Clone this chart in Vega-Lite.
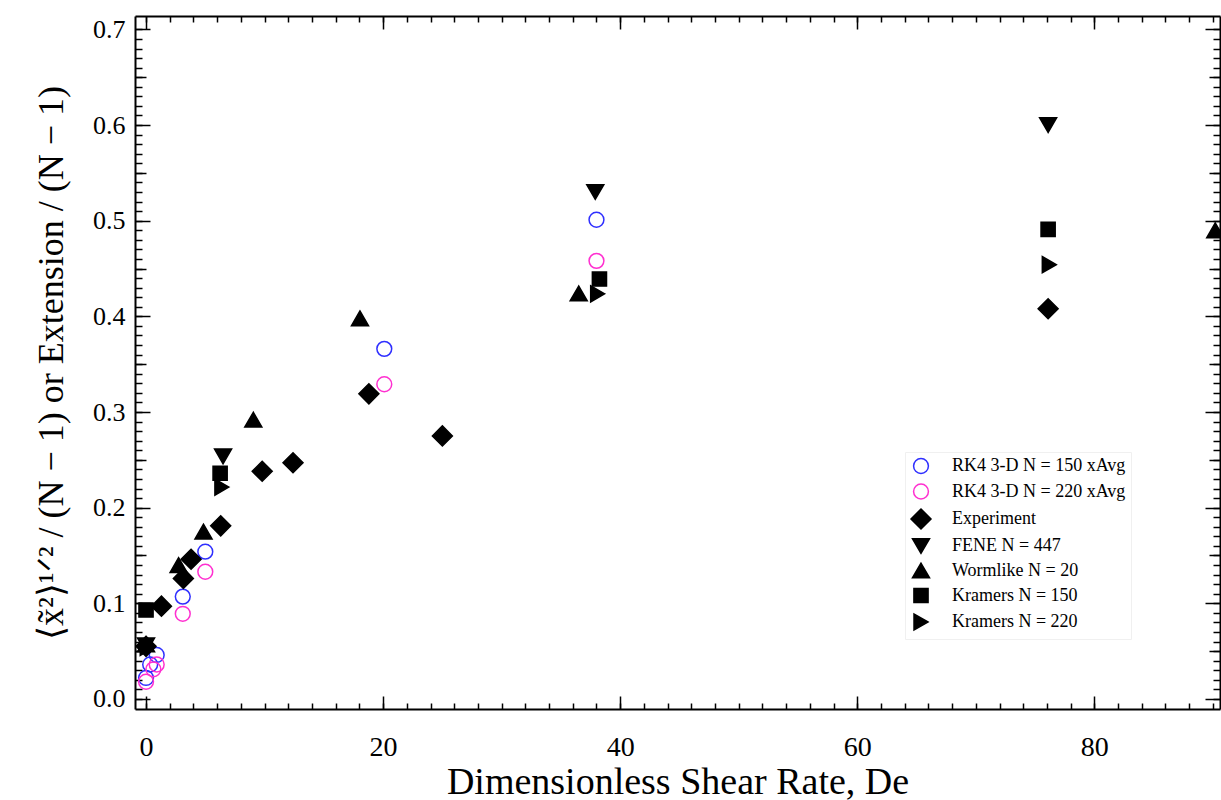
{
  "$schema": "https://vega.github.io/schema/vega-lite/v6.json",
  "width": 1085,
  "height": 693,
  "autosize": {"type": "none"},
  "padding": {"left": 135, "top": 16, "right": 1, "bottom": 91},
  "background": "white",
  "config": {
    "view": {"stroke": null},
    "axis": {"grid": false, "domainColor": "black", "domainWidth": 2, "tickColor": "black", "tickWidth": 1.5, "labelColor": "black", "titleColor": "black", "labelFont": "Liberation Serif", "titleFont": "Liberation Serif", "titleFontWeight": "normal"}
  },
  "datasets": {
    "pts": [
      {"series": "RK4 3-D N = 150 xAvg", "de": 0, "v": 0.022},
      {"series": "RK4 3-D N = 150 xAvg", "de": 0.35, "v": 0.036},
      {"series": "RK4 3-D N = 150 xAvg", "de": 0.9, "v": 0.046},
      {"series": "RK4 3-D N = 150 xAvg", "de": 3.1, "v": 0.107},
      {"series": "RK4 3-D N = 150 xAvg", "de": 5.0, "v": 0.154},
      {"series": "RK4 3-D N = 150 xAvg", "de": 20.1, "v": 0.366},
      {"series": "RK4 3-D N = 150 xAvg", "de": 38.0, "v": 0.501},
      {"series": "RK4 3-D N = 220 xAvg", "de": 0, "v": 0.018},
      {"series": "RK4 3-D N = 220 xAvg", "de": 0.62, "v": 0.031},
      {"series": "RK4 3-D N = 220 xAvg", "de": 0.9, "v": 0.036},
      {"series": "RK4 3-D N = 220 xAvg", "de": 3.1, "v": 0.089},
      {"series": "RK4 3-D N = 220 xAvg", "de": 5.0, "v": 0.133},
      {"series": "RK4 3-D N = 220 xAvg", "de": 20.1, "v": 0.329},
      {"series": "RK4 3-D N = 220 xAvg", "de": 38.0, "v": 0.458},
      {"series": "Experiment", "de": 0, "v": 0.055},
      {"series": "Experiment", "de": 1.3, "v": 0.097},
      {"series": "Experiment", "de": 3.15, "v": 0.126},
      {"series": "Experiment", "de": 3.8, "v": 0.146},
      {"series": "Experiment", "de": 6.3, "v": 0.181},
      {"series": "Experiment", "de": 9.8, "v": 0.238},
      {"series": "Experiment", "de": 12.4, "v": 0.247},
      {"series": "Experiment", "de": 18.8, "v": 0.319},
      {"series": "Experiment", "de": 25.0, "v": 0.275},
      {"series": "Experiment", "de": 76.1, "v": 0.408},
      {"series": "FENE N = 447", "de": 0, "v": 0.056},
      {"series": "FENE N = 447", "de": 6.5, "v": 0.2535},
      {"series": "FENE N = 447", "de": 37.9, "v": 0.53},
      {"series": "FENE N = 447", "de": 76.1, "v": 0.6},
      {"series": "Wormlike N = 20", "de": 0, "v": 0.057},
      {"series": "Wormlike N = 20", "de": 2.75, "v": 0.14},
      {"series": "Wormlike N = 20", "de": 4.85, "v": 0.175},
      {"series": "Wormlike N = 20", "de": 9.05, "v": 0.292},
      {"series": "Wormlike N = 20", "de": 18.05, "v": 0.398},
      {"series": "Wormlike N = 20", "de": 36.5, "v": 0.424},
      {"series": "Wormlike N = 20", "de": 90.2, "v": 0.49},
      {"series": "Kramers N = 150", "de": 0, "v": 0.093},
      {"series": "Kramers N = 150", "de": 6.25, "v": 0.236},
      {"series": "Kramers N = 150", "de": 38.25, "v": 0.439},
      {"series": "Kramers N = 150", "de": 76.1, "v": 0.491},
      {"series": "Kramers N = 220", "de": 0.1, "v": 0.054},
      {"series": "Kramers N = 220", "de": 6.4, "v": 0.2215},
      {"series": "Kramers N = 220", "de": 38.1, "v": 0.4235},
      {"series": "Kramers N = 220", "de": 76.2, "v": 0.454}
    ]
  },
  "data": {"name": "pts"},
  "resolve": {"axis": {"x": "independent", "y": "independent"}},
  "layer": [
    {
      "mark": {"type": "point", "filled": true, "strokeWidth": 1.5, "opacity": 1},
      "encoding": {
        "x": {"field": "de", "type": "quantitative", "scale": {"domain": [-0.93, 90.6], "nice": false, "zero": false},
          "axis": {"orient": "bottom", "values": [0, 20, 40, 60, 80], "format": "d", "tickSize": -13, "labelFontSize": 28, "labelPadding": 37, "title": "Dimensionless Shear Rate, De", "titleFontSize": 38, "titlePadding": 2}},
        "y": {"field": "v", "type": "quantitative", "scale": {"domain": [-0.0105, 0.714], "nice": false, "zero": false},
          "axis": {"orient": "left", "values": [0, 0.1, 0.2, 0.3, 0.4, 0.5, 0.6, 0.7], "format": ".1f", "tickSize": -15, "labelFontSize": 26, "labelPadding": 25, "title": "⟨x̃²⟩¹ᐟ² / (N − 1)  or  Extension / (N − 1)", "titleFontSize": 36, "titlePadding": 22}},
        "shape": {"field": "series", "type": "nominal",
          "scale": {"domain": ["RK4 3-D N = 150 xAvg", "RK4 3-D N = 220 xAvg", "Experiment", "FENE N = 447", "Wormlike N = 20", "Kramers N = 150", "Kramers N = 220"],
            "range": ["circle", "circle", "diamond", "triangle-down", "triangle-up", "square", "triangle-right"]},
          "legend": {"title": null, "orient": "none", "legendX": 770, "legendY": 436, "labelFont": "Liberation Serif", "labelFontSize": 18, "labelColor": "black", "labelLimit": 0, "rowPadding": 3.5, "labelOffset": 20, "padding": 5, "strokeColor": "#f0f0f0", "symbolStrokeWidth": 1.5}},
        "fill": {"field": "series", "type": "nominal",
          "scale": {"domain": ["RK4 3-D N = 150 xAvg", "RK4 3-D N = 220 xAvg", "Experiment", "FENE N = 447", "Wormlike N = 20", "Kramers N = 150", "Kramers N = 220"],
            "range": ["transparent", "transparent", "black", "black", "black", "black", "black"]},
          "legend": {"title": null, "orient": "none", "legendX": 770, "legendY": 436, "labelFont": "Liberation Serif", "labelFontSize": 18, "labelColor": "black", "labelLimit": 0, "rowPadding": 3.5, "labelOffset": 20, "padding": 5, "strokeColor": "#f0f0f0", "symbolStrokeWidth": 1.5}},
        "stroke": {"field": "series", "type": "nominal",
          "scale": {"domain": ["RK4 3-D N = 150 xAvg", "RK4 3-D N = 220 xAvg", "Experiment", "FENE N = 447", "Wormlike N = 20", "Kramers N = 150", "Kramers N = 220"],
            "range": ["#2f2fff", "#ff30d0", "black", "black", "black", "black", "black"]},
          "legend": {"title": null, "orient": "none", "legendX": 770, "legendY": 436, "labelFont": "Liberation Serif", "labelFontSize": 18, "labelColor": "black", "labelLimit": 0, "rowPadding": 3.5, "labelOffset": 20, "padding": 5, "strokeColor": "#f0f0f0", "symbolStrokeWidth": 1.5}},
        "size": {"field": "series", "type": "nominal",
          "scale": {"type": "ordinal", "domain": ["RK4 3-D N = 150 xAvg", "RK4 3-D N = 220 xAvg", "Experiment", "FENE N = 447", "Wormlike N = 20", "Kramers N = 150", "Kramers N = 220"],
            "range": [220, 220, 400, 290, 290, 200, 260]},
          "legend": {"title": null, "orient": "none", "legendX": 770, "legendY": 436, "labelFont": "Liberation Serif", "labelFontSize": 18, "labelColor": "black", "labelLimit": 0, "rowPadding": 3.5, "labelOffset": 20, "padding": 5, "strokeColor": "#f0f0f0", "symbolStrokeWidth": 1.5}}
      }
    },
    {
      "mark": {"type": "point", "opacity": 0},
      "encoding": {
        "x": {"field": "de", "type": "quantitative", "scale": {"domain": [-0.93, 90.6], "nice": false, "zero": false},
          "axis": {"orient": "bottom", "values": [0,2,4,6,8,10,12,14,16,18,20,22,24,26,28,30,32,34,36,38,40,42,44,46,48,50,52,54,56,58,60,62,64,66,68,70,72,74,76,78,80,82,84,86,88,90], "tickSize": -6, "labels": false, "domain": false, "title": null}},
        "y": {"field": "v", "type": "quantitative", "scale": {"domain": [-0.0105, 0.714], "nice": false, "zero": false},
          "axis": {"orient": "left", "values": [0,0.01,0.02,0.03,0.04,0.05,0.06,0.07,0.08,0.09,0.1,0.11,0.12,0.13,0.14,0.15,0.16,0.17,0.18,0.19,0.2,0.21,0.22,0.23,0.24,0.25,0.26,0.27,0.28,0.29,0.3,0.31,0.32,0.33,0.34,0.35,0.36,0.37,0.38,0.39,0.4,0.41,0.42,0.43,0.44,0.45,0.46,0.47,0.48,0.49,0.5,0.51,0.52,0.53,0.54,0.55,0.56,0.57,0.58,0.59,0.6,0.61,0.62,0.63,0.64,0.65,0.66,0.67,0.68,0.69,0.7], "tickSize": -7, "labels": false, "domain": false, "title": null}}
      }
    },
    {
      "mark": {"type": "point", "opacity": 0},
      "encoding": {
        "x": {"field": "de", "type": "quantitative", "scale": {"domain": [-0.93, 90.6], "nice": false, "zero": false},
          "axis": {"orient": "top", "values": [0, 20, 40, 60, 80], "tickSize": -13, "labels": false, "domain": true, "title": null}},
        "y": {"field": "v", "type": "quantitative", "scale": {"domain": [-0.0105, 0.714], "nice": false, "zero": false},
          "axis": {"orient": "right", "values": [0, 0.1, 0.2, 0.3, 0.4, 0.5, 0.6, 0.7], "tickSize": -15, "labels": false, "domain": true, "title": null}}
      }
    },
    {
      "mark": {"type": "point", "opacity": 0},
      "encoding": {
        "x": {"field": "de", "type": "quantitative", "scale": {"domain": [-0.93, 90.6], "nice": false, "zero": false},
          "axis": {"orient": "top", "values": [0,2,4,6,8,10,12,14,16,18,20,22,24,26,28,30,32,34,36,38,40,42,44,46,48,50,52,54,56,58,60,62,64,66,68,70,72,74,76,78,80,82,84,86,88,90], "tickSize": -6, "labels": false, "domain": false, "title": null}},
        "y": {"field": "v", "type": "quantitative", "scale": {"domain": [-0.0105, 0.714], "nice": false, "zero": false},
          "axis": {"orient": "right", "values": [0,0.01,0.02,0.03,0.04,0.05,0.06,0.07,0.08,0.09,0.1,0.11,0.12,0.13,0.14,0.15,0.16,0.17,0.18,0.19,0.2,0.21,0.22,0.23,0.24,0.25,0.26,0.27,0.28,0.29,0.3,0.31,0.32,0.33,0.34,0.35,0.36,0.37,0.38,0.39,0.4,0.41,0.42,0.43,0.44,0.45,0.46,0.47,0.48,0.49,0.5,0.51,0.52,0.53,0.54,0.55,0.56,0.57,0.58,0.59,0.6,0.61,0.62,0.63,0.64,0.65,0.66,0.67,0.68,0.69,0.7], "tickSize": -7, "labels": false, "domain": false, "title": null}}
      }
    },
    {
      "mark": {"type": "point", "opacity": 0},
      "encoding": {
        "x": {"field": "de", "type": "quantitative", "scale": {"domain": [-0.93, 90.6], "nice": false, "zero": false}, "axis": null},
        "y": {"field": "v", "type": "quantitative", "scale": {"domain": [-0.0105, 0.714], "nice": false, "zero": false},
          "axis": {"orient": "left", "values": [0.05, 0.15, 0.25, 0.35, 0.45, 0.55, 0.65], "tickSize": -11, "labels": false, "domain": false, "title": null}}
      }
    },
    {
      "mark": {"type": "point", "opacity": 0},
      "encoding": {
        "x": {"field": "de", "type": "quantitative", "scale": {"domain": [-0.93, 90.6], "nice": false, "zero": false}, "axis": null},
        "y": {"field": "v", "type": "quantitative", "scale": {"domain": [-0.0105, 0.714], "nice": false, "zero": false},
          "axis": {"orient": "right", "values": [0.05, 0.15, 0.25, 0.35, 0.45, 0.55, 0.65], "tickSize": -11, "labels": false, "domain": false, "title": null}}
      }
    }
  ]
}
